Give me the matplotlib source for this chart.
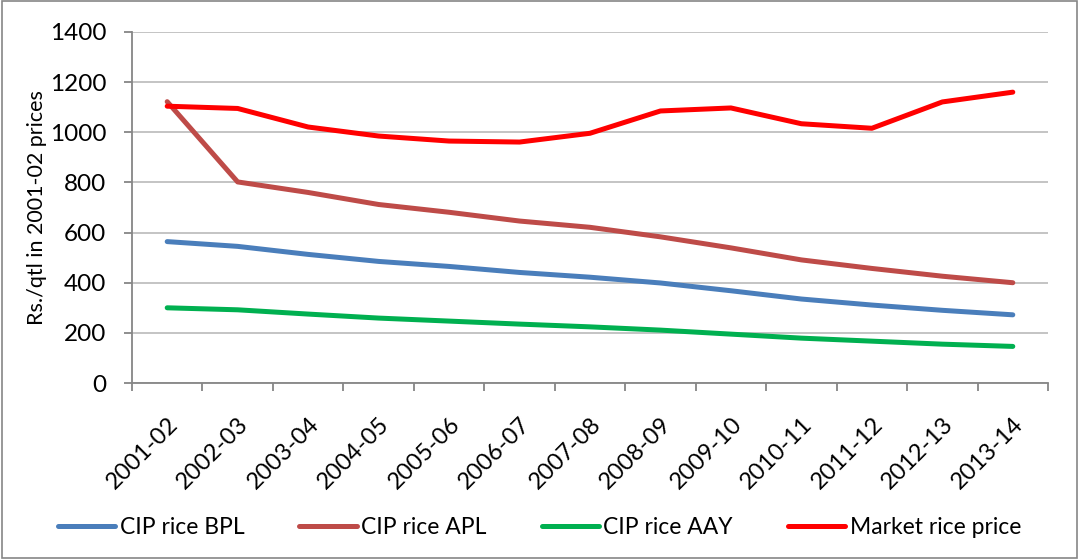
import matplotlib
matplotlib.use("Agg")
import matplotlib.pyplot as plt
import matplotlib.transforms as mtransforms
from matplotlib.patches import Rectangle

plt.rcParams['font.family'] = ['Lato', 'DejaVu Sans']

# données
years = ["2001-02", "2002-03", "2003-04", "2004-05", "2005-06", "2006-07", "2007-08",
         "2008-09", "2009-10", "2010-11", "2011-12", "2012-13", "2013-14"]
bpl = [564, 545, 513, 485, 465, 441, 422, 399, 368, 335, 311, 290, 272]
apl = [1122, 802, 760, 712, 681, 646, 621, 583, 539, 491, 457, 426, 400]
aay = [300, 292, 275, 259, 247, 235, 224, 211, 195, 179, 167, 155, 146]
market = [1104, 1095, 1021, 985, 965, 961, 996, 1085, 1097, 1034, 1016, 1121, 1160]

series = [
    ("CIP rice BPL", bpl, "#4A7EBB"),
    ("CIP rice APL", apl, "#BE4B48"),
    ("CIP rice AAY", aay, "#00B050"),
    ("Market rice price", market, "#FF0000"),
]

fig = plt.figure(figsize=(10.79, 5.59), dpi=100)
ax = fig.add_axes([0.1223, 0.3148, 0.9713 - 0.1223, 0.9428 - 0.3148])

x = list(range(len(years)))
for name, vals, col in series:
    ax.plot(x, vals, color=col, lw=3.6, solid_capstyle='round', solid_joinstyle='round', label=name)

ax.set_xlim(-0.5, len(years) - 0.5)
ax.set_ylim(0, 1400)
ax.set_yticks(range(0, 1401, 200))
ax.yaxis.grid(True, color="#BFBFBF", lw=1.3)
ax.set_axisbelow(True)

# ticks entre les catégories, étiquettes au centre
ax.set_xticks([i - 0.5 for i in range(len(years) + 1)], minor=False)
ax.set_xticklabels([])
ax.set_xticks(x, minor=True)
ax.set_xticklabels(years, minor=True, rotation=45, ha='right', rotation_mode='anchor', fontsize=17)
shift = mtransforms.ScaledTranslation(7 / 72, 0, fig.dpi_scale_trans)
for lab in ax.get_xticklabels(minor=True):
    lab.set_transform(lab.get_transform() + shift)
ax.tick_params(axis='x', which='minor', length=0, pad=22)
ax.tick_params(axis='x', which='major', length=5.5, width=1.3, color="#868686")
ax.tick_params(axis='y', length=5.5, width=1.3, color="#868686", labelsize=17.5, pad=13)

for s in ["top", "right"]:
    ax.spines[s].set_visible(False)
for s in ["left", "bottom"]:
    ax.spines[s].set_color("#868686")
    ax.spines[s].set_linewidth(1.3)

ax.set_ylabel("Rs./qtl in 2001-02 prices", fontsize=15.5)
ax.yaxis.set_label_coords(-0.093, 0.5)

fig.legend(loc='lower center', bbox_to_anchor=(0.5, 0.0), ncol=4, frameon=False,
           fontsize=16.5, handlelength=2.5, columnspacing=2.4, handletextpad=0.2)

fig.patches.append(Rectangle((0.002, 0.002), 0.996, 0.996, transform=fig.transFigure,
                             fill=False, edgecolor="#868686", lw=1.2))

fig.savefig("out.png", dpi=100)
